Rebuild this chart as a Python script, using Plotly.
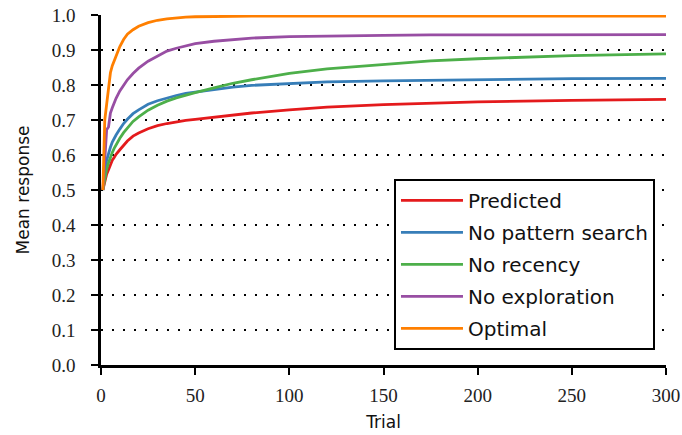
import plotly.graph_objects as go

trials = [1, 2, 3, 4, 5, 6, 7, 8, 10, 12, 14, 17, 20, 25, 30, 35, 40, 45, 50,
          60, 70, 80, 100, 120, 150, 175, 200, 250, 300]

predicted = [0.500, 0.525, 0.545, 0.558, 0.572, 0.585, 0.593, 0.602, 0.615, 0.628,
             0.640, 0.654, 0.663, 0.675, 0.684, 0.690, 0.695, 0.699, 0.702,
             0.708, 0.715, 0.720, 0.729, 0.737, 0.744, 0.749, 0.752, 0.756, 0.759]
no_pattern = [0.500, 0.557, 0.585, 0.607, 0.622, 0.637, 0.648, 0.657, 0.674, 0.690,
              0.702, 0.718, 0.729, 0.745, 0.755, 0.763, 0.770, 0.776, 0.780,
              0.788, 0.794, 0.799, 0.805, 0.809, 0.812, 0.814, 0.816, 0.818, 0.819]
no_recency = [0.500, 0.537, 0.560, 0.578, 0.594, 0.607, 0.619, 0.629, 0.648, 0.664,
              0.678, 0.696, 0.709, 0.728, 0.742, 0.754, 0.763, 0.771, 0.778,
              0.792, 0.805, 0.815, 0.833, 0.846, 0.859, 0.869, 0.875, 0.884, 0.889]
no_explore = [0.500, 0.580, 0.672, 0.680, 0.720, 0.735, 0.750, 0.762, 0.783, 0.800,
              0.815, 0.833, 0.848, 0.868, 0.882, 0.897, 0.905, 0.912, 0.918,
              0.925, 0.930, 0.934, 0.938, 0.940, 0.942, 0.943, 0.943, 0.944, 0.944]
optimal = [0.500, 0.700, 0.745, 0.800, 0.835, 0.855, 0.870, 0.885, 0.910, 0.930,
           0.945, 0.958, 0.968, 0.978, 0.985, 0.989, 0.992, 0.994, 0.995,
           0.996, 0.997, 0.997, 0.997, 0.997, 0.997, 0.997, 0.997, 0.997, 0.997]

series = [
    ("Predicted", predicted, "#e41a1c"),
    ("No pattern search", no_pattern, "#377eb8"),
    ("No recency", no_recency, "#4daf4a"),
    ("No exploration", no_explore, "#984ea3"),
    ("Optimal", optimal, "#ff7f00"),
]

x_ticks = [0, 50, 100, 150, 200, 250, 300]
y_ticks = [0.0, 0.1, 0.2, 0.3, 0.4, 0.5, 0.6, 0.7, 0.8, 0.9, 1.0]

fig = go.Figure()
for i, (name, vals, color) in enumerate(series):
    fig.add_trace(go.Scatter(
        x=trials, y=vals, name=name, mode="lines",
        line=dict(color=color, width=2.8),
        legendgroup=f"g{i}",
    ))

fig.update_layout(
    width=682, height=435,
    margin=dict(l=101, r=16, t=15, b=70, autoexpand=False),
    paper_bgcolor="white", plot_bgcolor="white",
    showlegend=True,
    legend=dict(
        x=0.9805, y=0.043, xanchor="right", yanchor="bottom",
        bordercolor="black", borderwidth=2, bgcolor="white",
        font=dict(family="DejaVu Sans", size=20, color="#111"),
        traceorder="grouped", tracegroupgap=3, itemwidth=62,
    ),
    xaxis=dict(
        range=[0, 300], tickvals=x_ticks, ticktext=[str(v) for v in x_ticks],
        showgrid=False, zeroline=False,
        showline=True, linecolor="black", linewidth=2.5,
        ticks="outside", ticklen=7, tickwidth=1.5, tickcolor="black",
        ticklabelstandoff=4,
        tickfont=dict(family="Liberation Serif", size=19, color="#222"),
        title=dict(text="Trial", font=dict(family="DejaVu Sans", size=17, color="#111"), standoff=12),
    ),
    yaxis=dict(
        range=[0, 1.0], tickvals=y_ticks, ticktext=[f"{v:.1f}" for v in y_ticks],
        showgrid=True, gridcolor="black", gridwidth=1.5, griddash="2px,9px",
        zeroline=False,
        showline=True, linecolor="black", linewidth=2.5,
        ticks="outside", ticklen=7, tickwidth=1.5, tickcolor="black",
        ticklabelstandoff=12,
        tickfont=dict(family="Liberation Serif", size=19, color="#222"),
        title=dict(text="Mean response", font=dict(family="DejaVu Sans", size=17, color="#111"), standoff=18),
    ),
)

fig.write_html("out.html", config={"displayModeBar": False},
               post_script="document.body.style.margin='0';")
